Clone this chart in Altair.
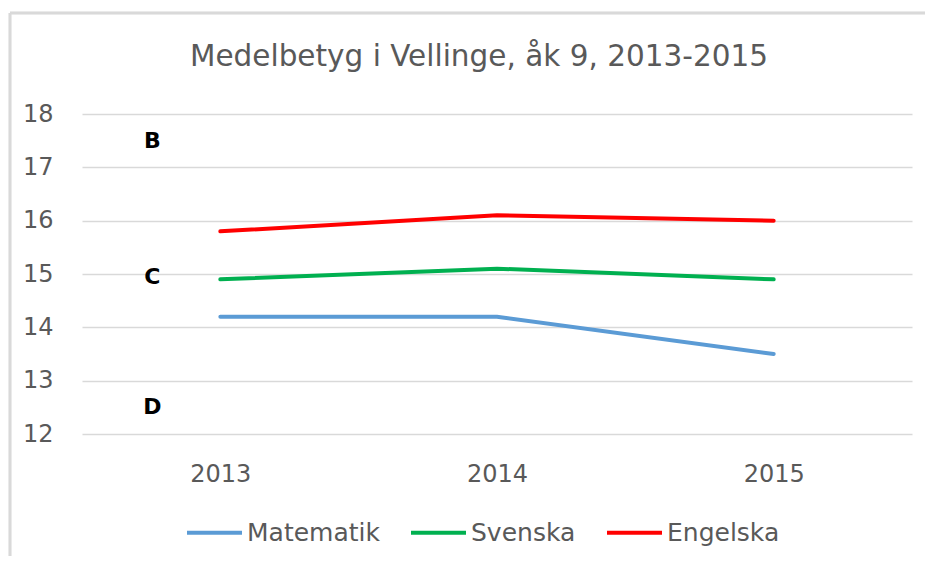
import altair as alt
import pandas as pd

years = ["2013", "2014", "2015"]
matematik = [14.2, 14.2, 13.5]
svenska = [14.9, 15.1, 14.9]
engelska = [15.8, 16.1, 16.0]
series_names = ["Matematik", "Svenska", "Engelska"]
series_colors = ["#5b9bd5", "#00b050", "#ff0000"]
grade_labels = ["B", "C", "D"]
grade_values = [17.5, 14.95, 12.5]
title_text = ["Medelbetyg i Vellinge, åk 9, 2013-2015"]

rows = []
for name, vals in zip(series_names, [matematik, svenska, engelska]):
    for y, v in zip(years, vals):
        rows.append({"year": y, "value": v, "series": name})
df = pd.DataFrame(rows)
grades = pd.DataFrame({"label": grade_labels, "value": grade_values, "year": ["2013"] * 3})
titles = pd.DataFrame({"t": title_text})

FONT = "DejaVu Sans"
GREY = "#595959"

x = alt.X("year:N", sort=years, title=None,
          scale=alt.Scale(paddingInner=0, paddingOuter=0),
          axis=alt.Axis(labelAngle=0, labelFontSize=24, labelColor=GREY, labelFont=FONT,
                        ticks=False, domain=False, labelPadding=28, grid=False))
y = alt.Y("value:Q", title=None,
          scale=alt.Scale(domain=[12, 18], nice=False, zero=False),
          axis=alt.Axis(values=[12, 13, 14, 15, 16, 17, 18], labelFontSize=24, labelColor=GREY,
                        labelFont=FONT, ticks=False, domain=False, labelPadding=29,
                        gridColor="#d9d9d9", gridWidth=1.5))

lines = alt.Chart(df).mark_line(strokeWidth=4, strokeCap="round").encode(
    x=x, y=y,
    color=alt.Color("series:N", sort=series_names,
                    scale=alt.Scale(domain=series_names, range=series_colors),
                    legend=alt.Legend(title=None, orient="none", direction="horizontal",
                                      legendX=103, legendY=389,
                                      symbolType="stroke", symbolSize=3025, symbolStrokeWidth=4,
                                      labelFontSize=25, labelColor=GREY, labelFont=FONT,
                                      columnPadding=23, labelOffset=3)),
)

texts = alt.Chart(grades).mark_text(fontSize=22, fontWeight="bold", font=FONT, color="black",
                                    dx=-68, baseline="middle").encode(
    x=alt.X("year:N", sort=years), y=alt.Y("value:Q"), text="label:N")

title_mark = alt.Chart(titles).mark_text(fontSize=29.5, font=FONT, color=GREY,
                                         baseline="middle", align="center", clip=False).encode(
    x=alt.value(397), y=alt.value(-57), text="t:N")

border_v = alt.Chart(grades).mark_rule(color="#d9d9d9", strokeWidth=2.5, clip=False).encode(
    x=alt.value(-72), y=alt.value(-101), y2=alt.value(442))
border_h = alt.Chart(grades).mark_rule(color="#d9d9d9", strokeWidth=2.5, clip=False).encode(
    x=alt.value(-72), x2=alt.value(843), y=alt.value(-101))

chart = alt.layer(lines, texts, title_mark, border_v, border_h).properties(
    width=830, height=320,
    background="white",
    autosize=alt.AutoSizeParams(type="none"),
    padding={"left": 74, "top": 106, "right": 13, "bottom": 122},
).configure_view(strokeWidth=0, stroke="transparent")

chart.save("out.html", embed_options={"renderer": "svg", "actions": False})
